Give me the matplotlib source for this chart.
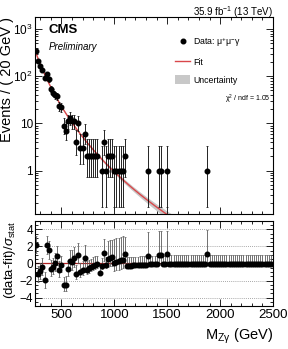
import numpy as np
import matplotlib
matplotlib.use('Agg')
import matplotlib.pyplot as plt
from matplotlib.lines import Line2D
from matplotlib.patches import Patch
from matplotlib.ticker import MultipleLocator, LogLocator, FuncFormatter, NullFormatter

plt.rcParams['font.family'] = ['Liberation Sans', 'DejaVu Sans']
plt.rcParams['mathtext.fontset'] = 'custom'
plt.rcParams['mathtext.rm'] = 'Liberation Sans'
plt.rcParams['mathtext.it'] = 'Liberation Sans:italic'
plt.rcParams['mathtext.bf'] = 'Liberation Sans:bold'

# binning (20 GeV bins)
bin_lo = 250
bin_hi = 2500
bin_w = 20

# non-empty bins (bin centre, events)
mass = [260, 280, 300, 320, 340, 360, 380, 400, 420, 440, 460, 480, 500,
        520, 540, 560, 580, 600, 620, 640, 660, 680, 700, 720,
        740, 760, 780, 800, 820, 840, 880, 900, 920, 940, 960, 980,
        1000, 1020, 1040, 1060, 1080, 1100, 1320, 1420, 1440, 1500, 1880]
counts = [348, 214, 168, 136, 91, 112, 86, 53, 45, 40, 38, 23, 22,
          9, 7, 11, 13, 11, 11, 4, 10, 3, 3, 6,
          2, 2, 2, 2, 2, 2, 1, 4, 1, 2, 2, 2,
          1, 1, 1, 1, 1, 2, 1, 1, 1, 1, 1]

# fit: log10(N) = a + b*ln(m) + c*ln(m)^2 ; band = fractional uncertainty
fit_par = [4.787, 0.757, -0.2105]
unc_par = [0.03, 0.10]
chi2_ndf = 1.05


def fit_func(m):
    lm = np.log(m)
    return 10 ** (fit_par[0] + fit_par[1] * lm + fit_par[2] * lm ** 2)


def fit_unc(m):
    return unc_par[0] + unc_par[1] * ((m - bin_lo) / 1000.0) ** 2


# 68% Poisson interval (Wilson-Hilferty approximation)
def pois_lo(n):
    n = np.asarray(n, dtype=float)
    out = np.zeros_like(n)
    ok = n > 0
    out[ok] = n[ok] * (1 - 1 / (9 * n[ok]) - 1 / (3 * np.sqrt(n[ok]))) ** 3
    return out


def pois_hi(n):
    n = np.asarray(n, dtype=float) + 1
    return n * (1 - 1 / (9 * n) + 1 / (3 * np.sqrt(n))) ** 3


centers = np.arange(bin_lo + bin_w / 2, bin_hi, bin_w)
all_counts = np.zeros(len(centers))
for m, c in zip(mass, counts):
    all_counts[np.argmin(np.abs(centers - m))] = c

fig = plt.figure(figsize=(2.88, 3.49), dpi=100)
ax = fig.add_axes([0.1215, 0.387, 0.8265, 0.564])
axr = fig.add_axes([0.1215, 0.123, 0.8265, 0.244])

# ---- main panel
m_grid = np.linspace(bin_lo, bin_hi, 500)
f_grid = fit_func(m_grid)
u_grid = fit_unc(m_grid)
ax.fill_between(m_grid, f_grid * (1 - u_grid), f_grid * (1 + u_grid),
                color='#c8c8c8', lw=0, zorder=1)
ax.plot(m_grid, f_grid, color='#d9474a', lw=1.0, zorder=2)

n = np.array(counts, dtype=float)
err_lo = n - pois_lo(n)
err_hi = pois_hi(n) - n
ax.errorbar(mass, n, yerr=[err_lo, err_hi], fmt='o', color='k', ms=3.3,
            elinewidth=0.6, capsize=1.0, capthick=0.5, zorder=3)

ax.set_yscale('log')
ax.set_xlim(bin_lo, bin_hi)
ax.set_ylim(0.12, 1800)


def log_fmt(v, pos):
    e = int(round(np.log10(v)))
    if e == 0:
        return '1'
    if e == 1:
        return '10'
    return r'$10^{%d}$' % e


ax.yaxis.set_major_locator(LogLocator(base=10, numticks=10))
ax.yaxis.set_minor_locator(LogLocator(base=10, subs=np.arange(2, 10), numticks=20))
ax.yaxis.set_major_formatter(FuncFormatter(log_fmt))
ax.yaxis.set_minor_formatter(NullFormatter())
ax.xaxis.set_major_locator(MultipleLocator(500))
ax.xaxis.set_minor_locator(MultipleLocator(100))
ax.tick_params(axis='x', labelbottom=False)
ax.set_ylabel('Events / ( 20 GeV )', fontsize=10.5, loc='top')
ax.yaxis.set_label_coords(-0.088, 1.0)

ax.text(0.055, 0.934, 'CMS', transform=ax.transAxes, fontsize=9.5,
        fontweight='bold', va='center', ha='left')
ax.text(0.057, 0.85, 'Preliminary', transform=ax.transAxes, fontsize=7,
        style='italic', va='center', ha='left')
fig.text(0.948, 0.966, r'35.9 fb$^{-1}$ (13 TeV)', fontsize=7,
         ha='right', va='center')

handles = [Line2D([], [], marker='o', color='k', ls='none', ms=3.3),
           Line2D([], [], color='#d9474a', lw=1.0),
           Patch(facecolor='#c8c8c8', edgecolor='none')]
labels = [r'Data: $\mathregular{\mu^{+}\mu^{-}\gamma}$', 'Fit', 'Uncertainty']
ax.legend(handles, labels, loc='upper left', bbox_to_anchor=(0.59, 0.91),
          frameon=False, fontsize=6.3, handlelength=1.7, handleheight=1.2,
          handletextpad=0.35, labelspacing=1.0, borderpad=0, borderaxespad=0)
ax.text(0.99, 0.584, r'$\mathregular{\chi^{2}}$ / ndf = %.2f' % chi2_ndf,
        transform=ax.transAxes, fontsize=5.0, ha='right', va='center')

# ---- ratio panel
fit_c = fit_func(centers)
c_lo = all_counts - pois_lo(all_counts)
c_hi = pois_hi(all_counts) - all_counts
above = all_counts >= fit_c
sigma = np.where(above, c_lo, c_hi)
pull = (all_counts - fit_c) / sigma
with np.errstate(divide='ignore', invalid='ignore'):
    bar_lo = np.where(above, 1.0, c_lo / c_hi)
    bar_hi = np.where(above, c_hi / np.where(c_lo > 0, c_lo, 1), 1.0)

for yv in [-4, -2, 0, 2, 4]:
    axr.axhline(yv, color='0.55', lw=0.6, ls=(0, (1, 1.5)), zorder=0)
axr.axhline(0, color='#b22222', lw=0.9, zorder=1)
axr.errorbar(centers, pull, yerr=[bar_lo, bar_hi], fmt='o', color='k', ms=3.3,
             ecolor='0.35', elinewidth=0.6, capsize=1.0, capthick=0.5, zorder=3)
axr.set_xlim(bin_lo, bin_hi)
axr.set_ylim(-5, 5)
axr.xaxis.set_major_locator(MultipleLocator(500))
axr.xaxis.set_minor_locator(MultipleLocator(100))
axr.yaxis.set_major_locator(MultipleLocator(2))
axr.yaxis.set_minor_locator(MultipleLocator(0.5))
axr.set_ylabel(r'(data-fit)/$\sigma_{\mathregular{stat}}$', fontsize=9.5, loc='top')
axr.yaxis.set_label_coords(-0.072, 1.0)
axr.set_xlabel(r'M$_{\mathregular{Z\gamma}}$ (GeV)', fontsize=10.5, loc='right')

for a in (ax, axr):
    a.tick_params(which='both', direction='in', top=True, right=True,
                  width=0.6, labelsize=9.5, pad=2)
    a.tick_params(which='major', length=5)
    a.tick_params(which='minor', length=2.5)
    for s in a.spines.values():
        s.set_linewidth(0.8)
ax.tick_params(axis='y', labelsize=8.5, pad=1.5)
axr.tick_params(axis='y', labelsize=8.5, pad=1.5)

fig.savefig('out.png', dpi=100)
